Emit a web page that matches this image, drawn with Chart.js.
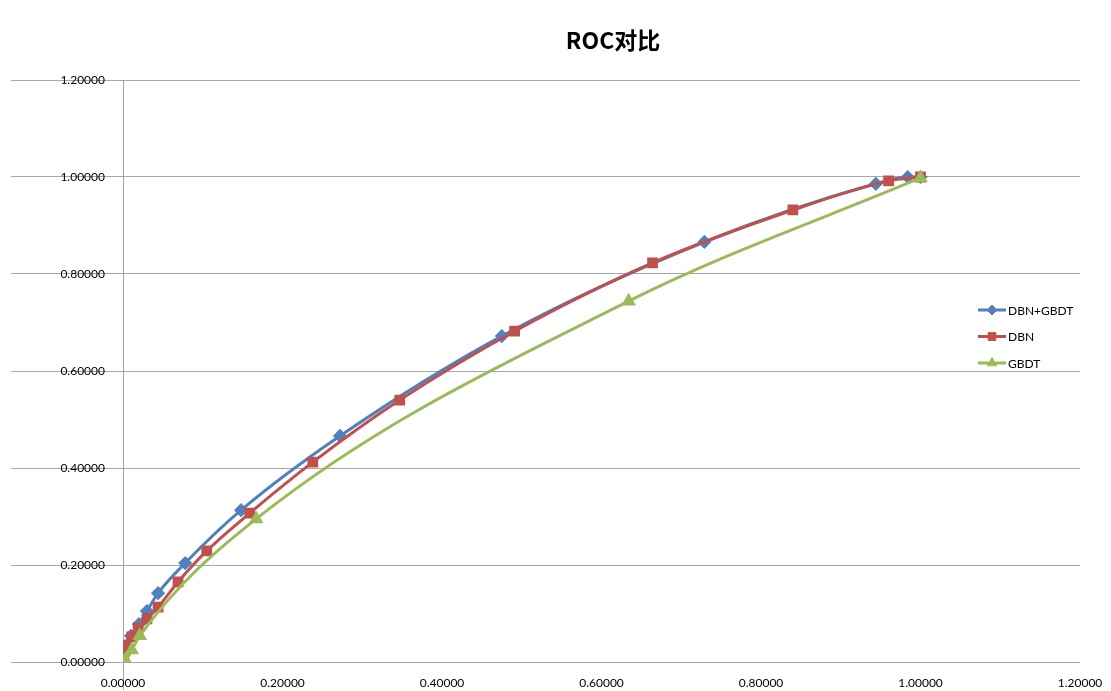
<!DOCTYPE html>
<html>
<head>
<meta charset="utf-8">
<script src="https://cdn.jsdelivr.net/npm/chart.js@4.4.0/dist/chart.umd.min.js"></script>
<style>
  html, body { margin: 0; padding: 0; background: #fff; }
  #wrap { width: 1111px; height: 691px; position: relative; }
</style>
</head>
<body>
<div id="wrap"><canvas id="rocChart"></canvas></div>
<script>
// --- DATA (FPR, TPR) ---
const titleText = 'ROC对比';
const seriesNames = ['DBN+GBDT', 'DBN', 'GBDT'];

const dbnGbdtX = [0, 0.001, 0.005, 0.010, 0.020, 0.030, 0.044, 0.078, 0.148, 0.272, 0.475, 0.729, 0.944, 0.984, 1.0];
const dbnGbdtY = [0, 0.014, 0.035, 0.054, 0.078, 0.105, 0.142, 0.204, 0.313, 0.466, 0.672, 0.866, 0.986, 1.0, 1.0];

const dbnX = [0, 0.001, 0.005, 0.011, 0.019, 0.030, 0.044, 0.069, 0.105, 0.159, 0.238, 0.347, 0.491, 0.664, 0.840, 0.960, 1.0];
const dbnY = [0, 0.010, 0.035, 0.052, 0.070, 0.089, 0.113, 0.165, 0.229, 0.307, 0.412, 0.540, 0.682, 0.823, 0.932, 0.992, 1.0];

const gbdtX = [0, 0.003, 0.011, 0.021, 0.167, 0.634, 1.0];
const gbdtY = [0, 0.004, 0.025, 0.054, 0.295, 0.744, 0.998];

const axisTicks = [0, 0.2, 0.4, 0.6, 0.8, 1.0, 1.2];

const colors = ['#4F81BD', '#C0504D', '#9BBB59'];
const markers = ['rectRot', 'rect', 'triangle'];

const FONT = '"Lato", "Open Sans", "Noto Sans", sans-serif';

function toPoints(xs, ys) {
  return xs.map((x, i) => ({ x: x, y: ys[i] }));
}

const datasets = [
  toPoints(dbnGbdtX, dbnGbdtY),
  toPoints(dbnX, dbnY),
  toPoints(gbdtX, gbdtY)
].map((pts, i) => ({
  label: seriesNames[i],
  data: pts,
  borderColor: colors[i],
  backgroundColor: colors[i],
  pointBackgroundColor: colors[i],
  pointBorderColor: colors[i],
  pointStyle: markers[i],
  pointRadius: i === 0 ? 5 : 5.5,
  borderWidth: 3,
  cubicInterpolationMode: 'monotone',
  order: 2 - i   // later series drawn on top
}));

// title and legend sit at fixed spots over the chart
const overlayPlugin = {
  id: 'overlay',
  afterDraw(chart) {
    const ctx = chart.ctx;
    ctx.save();
    ctx.fillStyle = '#000';
    ctx.font = 'bold 23px "Noto Sans CJK SC", "Noto Sans", sans-serif';
    ctx.textAlign = 'center';
    ctx.textBaseline = 'middle';
    ctx.fillText(titleText, 613, 40);

    ctx.font = '12px ' + FONT;
    ctx.textAlign = 'left';
    chart.data.datasets.forEach((ds, i) => {
      const y = 310 + i * 26.5;
      ctx.strokeStyle = ds.borderColor;
      ctx.fillStyle = ds.borderColor;
      ctx.lineWidth = 3;
      ctx.beginPath();
      ctx.moveTo(978, y);
      ctx.lineTo(1006, y);
      ctx.stroke();
      ctx.lineWidth = 1;
      Chart.helpers.drawPoint(ctx, {
        pointStyle: ds.pointStyle, radius: ds.pointRadius, borderWidth: 1
      }, 992, y);
      ctx.fillStyle = '#000';
      ctx.fillText(ds.label, 1008, y + 1);
    });
    ctx.restore();
  }
};

new Chart(document.getElementById('rocChart'), {
  type: 'line',
  data: { datasets: datasets },
  options: {
    responsive: true,
    maintainAspectRatio: false,
    animation: false,
    layout: { padding: { top: 80, right: 31, left: 0, bottom: 0 } },
    plugins: {
      legend: { display: false },
      title: { display: false },
      tooltip: { enabled: false }
    },
    scales: {
      x: {
        type: 'linear',
        min: 0,
        max: 1.2,
        afterBuildTicks: s => { s.ticks = axisTicks.map(v => ({ value: v })); },
        afterFit: s => { s.height = 29; },
        ticks: {
          callback: v => Number(v).toFixed(5),
          font: { family: FONT, size: 12 },
          color: '#000',
          maxRotation: 0,
          padding: -14
        },
        grid: {
          // only the zero line shows, running down past the axis
          color: c => (c.tick && c.tick.value === 0 ? '#a6a6a6' : 'rgba(0,0,0,0)'),
          lineWidth: 1,
          tickLength: 28
        },
        border: { display: false }
      },
      y: {
        type: 'linear',
        min: 0,
        max: 1.2,
        afterBuildTicks: s => { s.ticks = axisTicks.map(v => ({ value: v })); },
        afterFit: s => { s.width = 123; },
        ticks: {
          callback: v => Number(v).toFixed(5),
          font: { family: FONT, size: 12 },
          color: '#000',
          padding: -94
        },
        grid: {
          color: '#a6a6a6',
          lineWidth: 1,
          tickLength: 112
        },
        border: { display: false }
      }
    }
  },
  plugins: [overlayPlugin]
});
</script>
</body>
</html>
